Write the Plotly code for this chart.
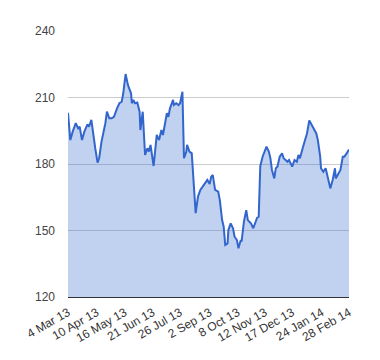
import plotly.graph_objects as go

dates = [
    "2013-03-04", "2013-03-07", "2013-03-10", "2013-03-14", "2013-03-17", "2013-03-19",
    "2013-03-22", "2013-03-25", "2013-03-29", "2013-03-31", "2013-04-03", "2013-04-05",
    "2013-04-08", "2013-04-11", "2013-04-13", "2013-04-16", "2013-04-21", "2013-04-23",
    "2013-04-26", "2013-04-29", "2013-05-02", "2013-05-06", "2013-05-09", "2013-05-12",
    "2013-05-14", "2013-05-17", "2013-05-20", "2013-05-24", "2013-05-25", "2013-05-27",
    "2013-05-29", "2013-06-01", "2013-06-04", "2013-06-05", "2013-06-08", "2013-06-11",
    "2013-06-14", "2013-06-16", "2013-06-18", "2013-06-22", "2013-06-26", "2013-06-29",
    "2013-07-02", "2013-07-04", "2013-07-09", "2013-07-11", "2013-07-13", "2013-07-17",
    "2013-07-18", "2013-07-21", "2013-07-24", "2013-07-26", "2013-07-27", "2013-07-28",
    "2013-07-29", "2013-07-31", "2013-08-03", "2013-08-04", "2013-08-07", "2013-08-10",
    "2013-08-12", "2013-08-15", "2013-08-18", "2013-08-21", "2013-08-24", "2013-08-27",
    "2013-08-30", "2013-09-02", "2013-09-04", "2013-09-06", "2013-09-09", "2013-09-13",
    "2013-09-15", "2013-09-18", "2013-09-20", "2013-09-22", "2013-09-25", "2013-09-26",
    "2013-09-29", "2013-10-02", "2013-10-04", "2013-10-07", "2013-10-09", "2013-10-12",
    "2013-10-13", "2013-10-16", "2013-10-19", "2013-10-21", "2013-10-25", "2013-10-28",
    "2013-10-31", "2013-11-02", "2013-11-04", "2013-11-06", "2013-11-09", "2013-11-11",
    "2013-11-14", "2013-11-17", "2013-11-19", "2013-11-21", "2013-11-24", "2013-11-26",
    "2013-11-28", "2013-12-01", "2013-12-04", "2013-12-06", "2013-12-08", "2013-12-11",
    "2013-12-13", "2013-12-17", "2013-12-20", "2013-12-23", "2013-12-25", "2013-12-27",
    "2013-12-31", "2014-01-03", "2014-01-05", "2014-01-08", "2014-01-11", "2014-01-14",
    "2014-01-17", "2014-01-19", "2014-01-22", "2014-01-23", "2014-01-26", "2014-01-29",
    "2014-01-31", "2014-02-02", "2014-02-04", "2014-02-07", "2014-02-10", "2014-02-11",
    "2014-02-14", "2014-02-17", "2014-02-20", "2014-02-22", "2014-02-25", "2014-02-27",
    "2014-02-28",
]

prices = [
    203.1, 190.8, 194.6, 198.4, 196.1, 196.8,
    190.8, 194.6, 197.9, 196.8, 199.9, 193.8,
    187.1, 180.6, 182.6, 190.0, 198.4, 203.6,
    200.6, 200.6, 201.3, 205.1, 207.4, 208.1,
    211.9, 220.6, 215.6, 211.9, 207.4, 208.9,
    207.4, 207.7, 203.6, 195.3, 203.6, 184.1,
    187.1, 185.6, 188.6, 179.1, 193.1, 190.8,
    195.3, 193.1, 202.9, 201.3, 205.1, 208.9,
    206.6, 207.4, 206.6, 207.4, 209.6, 211.9,
    212.6, 182.6, 185.6, 188.6, 185.6, 184.8,
    172.8, 157.8, 165.3, 168.3, 169.8, 171.3,
    172.8, 171.0, 174.3, 175.0, 168.3, 167.5,
    163.8, 154.7, 151.7, 143.5, 144.2, 150.2,
    153.2, 151.0, 147.2, 145.7, 142.0, 145.7,
    145.0, 154.0, 159.2, 154.7, 153.2, 151.0,
    154.0, 155.8, 156.2, 179.0, 183.3, 184.8,
    187.8, 185.6, 182.6, 177.3, 173.5, 178.1,
    178.8, 183.3, 184.8, 182.6, 181.8, 181.0,
    181.8, 178.8, 181.8, 181.0, 184.1, 182.6,
    187.8, 191.6, 193.8, 199.6, 197.6, 196.1,
    193.8, 190.8, 183.3, 178.1, 176.5, 178.1,
    175.0, 172.8, 169.0, 172.8, 178.1, 173.5,
    175.8, 177.3, 183.3, 183.3, 184.8, 186.3,
    186.5,
]

tick_dates = ["2013-03-04", "2013-04-10", "2013-05-16", "2013-06-21", "2013-07-26",
              "2013-09-02", "2013-10-08", "2013-11-12", "2013-12-17", "2014-01-24",
              "2014-02-28"]
tick_labels = ["4 Mar 13", "10 Apr 13", "16 May 13", "21 Jun 13", "26 Jul 13",
               "2 Sep 13", "8 Oct 13", "12 Nov 13", "17 Dec 13", "24 Jan 14",
               "28 Feb 14"]
y_ticks = [120, 150, 180, 210, 240]

fig = go.Figure()
fig.add_trace(go.Scatter(
    x=dates, y=prices, mode="lines", fill="tozeroy",
    line=dict(color="#3366cc", width=2),
    fillcolor="rgba(51,102,204,0.3)",
    hoverinfo="x+y",
))

# page body has an 8px default margin, so the figure is offset by 8px
fig.update_layout(
    width=364, height=344,
    margin=dict(l=60, r=23, t=23, b=55),
    paper_bgcolor="white", plot_bgcolor="white",
    showlegend=False,
    font=dict(family="Liberation Sans, Arial, sans-serif", size=12, color="#444"),
    xaxis=dict(
        type="date", automargin=False,
        range=["2013-03-04", "2014-02-28"],
        tickvals=tick_dates, ticktext=tick_labels,
        tickangle=-30, showgrid=False, zeroline=False,
        showline=True, linecolor="#333", linewidth=1,
        ticks="", ticklabelstandoff=3, tickfont=dict(size=12, color="#333"),
    ),
    yaxis=dict(
        range=[120, 240], tickvals=y_ticks, automargin=False,
        showgrid=True, gridcolor="#cccccc", gridwidth=1,
        zeroline=False, showline=False, ticks="",
        ticklabelstandoff=12, tickfont=dict(size=12, color="#444"),
    ),
)

fig.write_html("out.html")
